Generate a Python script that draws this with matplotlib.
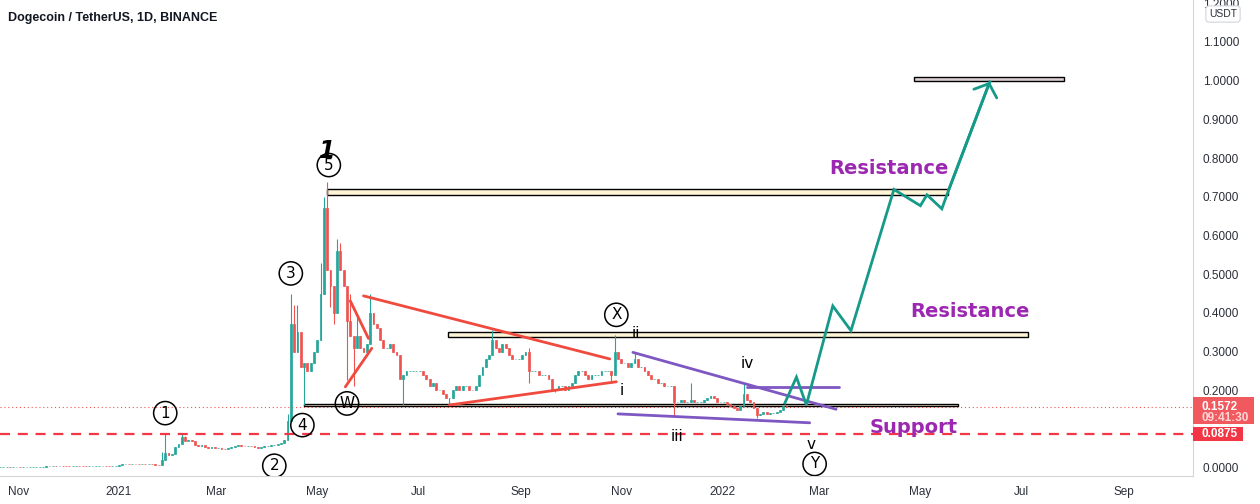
import pandas as pd
import matplotlib
matplotlib.use("Agg")
import matplotlib.pyplot as plt
import matplotlib.dates as mdates
from matplotlib.patches import Rectangle

plt.rcParams["font.family"] = ["DejaVu Sans"]

# 2-day candles starting 2020-10-21 (closes)
closes_oct20 = [0.0026, 0.0026, 0.0027, 0.0026, 0.0026, 0.0026]
closes_nov20 = [0.0025, 0.0026, 0.0026, 0.0027, 0.0027, 0.0028, 0.0029, 0.0030,
                0.0031, 0.0033, 0.0035, 0.0034, 0.0037, 0.0035, 0.0034]
closes_dec20 = [0.0033, 0.0034, 0.0034, 0.0033, 0.0032, 0.0031, 0.0032, 0.0034,
                0.0041, 0.0047, 0.0050, 0.0046, 0.0045, 0.0047, 0.0047]
closes_jan21 = [0.0058, 0.0098, 0.0100, 0.0095, 0.0100, 0.0098, 0.0090, 0.0092,
                0.0088, 0.0090, 0.0085, 0.0075, 0.0072, 0.0210, 0.0370, 0.0340]
closes_feb21 = [0.036, 0.053, 0.060, 0.078, 0.070, 0.072, 0.069, 0.058, 0.055,
                0.058, 0.053, 0.050, 0.054, 0.050]
closes_mar21 = [0.050, 0.049, 0.048, 0.052, 0.054, 0.056, 0.058, 0.057, 0.055,
                0.057, 0.056, 0.054, 0.052, 0.054, 0.057]
closes_apr21 = [0.057, 0.058, 0.059, 0.062, 0.064, 0.072, 0.120, 0.370, 0.300,
                0.350, 0.260, 0.270, 0.250, 0.270, 0.300]
closes_may21 = [0.330, 0.450, 0.670, 0.510, 0.470, 0.400, 0.560, 0.510, 0.470,
                0.380, 0.340, 0.310, 0.340, 0.310, 0.300, 0.320]
closes_jun21 = [0.400, 0.370, 0.360, 0.330, 0.310, 0.310, 0.320, 0.300, 0.290,
                0.230, 0.240, 0.250, 0.250, 0.250, 0.250]
closes_jul21 = [0.250, 0.240, 0.230, 0.210, 0.220, 0.200, 0.200, 0.190, 0.180,
                0.180, 0.200, 0.210, 0.200, 0.210, 0.210]
closes_aug21 = [0.200, 0.200, 0.210, 0.240, 0.260, 0.280, 0.290, 0.330, 0.310,
                0.300, 0.320, 0.310, 0.290, 0.280, 0.280, 0.280]
closes_sep21 = [0.290, 0.300, 0.250, 0.250, 0.250, 0.240, 0.240, 0.240, 0.230,
                0.200, 0.200, 0.210, 0.210, 0.200, 0.210]
closes_oct21 = [0.220, 0.240, 0.250, 0.250, 0.240, 0.230, 0.240, 0.240, 0.240,
                0.250, 0.250, 0.250, 0.240, 0.300, 0.280]
closes_nov21 = [0.270, 0.270, 0.260, 0.270, 0.280, 0.260, 0.260, 0.250, 0.240,
                0.230, 0.230, 0.220, 0.220, 0.210, 0.210]
closes_dec21 = [0.210, 0.170, 0.170, 0.175, 0.170, 0.170, 0.175, 0.170, 0.170,
                0.170, 0.175, 0.180, 0.185, 0.180, 0.170, 0.170]
closes_jan22 = [0.170, 0.165, 0.160, 0.155, 0.150, 0.160, 0.190, 0.175, 0.170,
                0.155, 0.135, 0.140, 0.145, 0.140, 0.142]
closes_feb22 = [0.142, 0.145, 0.150, 0.160, 0.1572]

closes = (closes_oct20 + closes_nov20 + closes_dec20 + closes_jan21 + closes_feb21
          + closes_mar21 + closes_apr21 + closes_may21 + closes_jun21 + closes_jul21
          + closes_aug21 + closes_sep21 + closes_oct21 + closes_nov21 + closes_dec21
          + closes_jan22 + closes_feb22)

wick_highs = {"2021-01-27": 0.040, "2021-01-29": 0.088, "2021-02-08": 0.087,
              "2021-02-10": 0.083, "2021-04-13": 0.140, "2021-04-15": 0.450,
              "2021-04-17": 0.420, "2021-04-19": 0.420, "2021-04-21": 0.340,
              "2021-05-03": 0.530, "2021-05-05": 0.700, "2021-05-07": 0.739,
              "2021-05-13": 0.590, "2021-05-15": 0.580, "2021-05-21": 0.450,
              "2021-05-25": 0.400, "2021-06-02": 0.450, "2021-08-15": 0.356,
              "2021-09-06": 0.310, "2021-10-28": 0.343, "2021-11-09": 0.300,
              "2021-12-13": 0.220, "2022-01-14": 0.218}
wick_lows = {"2021-04-23": 0.162, "2021-05-09": 0.416, "2021-05-11": 0.370,
             "2021-05-19": 0.227, "2021-05-23": 0.210, "2021-06-22": 0.162,
             "2021-07-20": 0.162, "2021-09-06": 0.219, "2021-09-22": 0.195,
             "2021-10-26": 0.220, "2021-12-03": 0.134, "2022-01-22": 0.129}

# drawings on the chart
zones = [  # start, end, low, high, fill
    ("2021-05-07", "2022-05-18", 0.704, 0.719, "#fff5d6"),
    ("2021-07-19", "2022-07-05", 0.337, 0.351, "#fff5d6"),
    ("2021-04-23", "2022-05-24", 0.160, 0.165, "#fff5d6"),
    ("2022-04-27", "2022-07-27", 0.998, 1.009, "#dccfd5"),
]
red_lines = [
    (("2021-05-29", 0.444), ("2021-10-25", 0.281)),
    (("2021-07-20", 0.162), ("2021-10-29", 0.222)),
    (("2021-05-21", 0.431), ("2021-06-01", 0.334)),
    (("2021-05-18", 0.209), ("2021-06-03", 0.3085)),
]
purple_lines = [
    (("2021-11-08", 0.298), ("2022-03-11", 0.151)),
    (("2021-10-30", 0.139), ("2022-02-23", 0.116)),
    (("2022-01-16", 0.208), ("2022-03-13", 0.208)),
]
path_dates = ["2022-02-08", "2022-02-15", "2022-02-21", "2022-03-09", "2022-03-20",
              "2022-04-15", "2022-05-01", "2022-05-05", "2022-05-14", "2022-05-18",
              "2022-06-12"]
path_prices = [0.167, 0.234, 0.162, 0.418, 0.354, 0.719, 0.677, 0.705, 0.669, 0.716, 0.997]

circle_labels = [("1", "2021-01-29", 0.141), ("2", "2021-04-05", 0.005),
                 ("3", "2021-04-15", 0.502), ("4", "2021-04-22", 0.110),
                 ("5", "2021-05-08", 0.782), ("W", "2021-05-19", 0.166),
                 ("X", "2021-10-29", 0.395), ("Y", "2022-02-26", 0.0096)]
roman_labels = [("i", "2021-11-01", 0.199), ("ii", "2021-11-10", 0.347),
                ("iii", "2021-12-05", 0.080), ("iv", "2022-01-16", 0.270),
                ("v", "2022-02-24", 0.061)]
big_labels = [("Resistance", "2022-04-12", 0.772), ("Resistance", "2022-05-31", 0.404),
              ("Support", "2022-04-27", 0.1026)]

support_price = 0.0875
last_price = 0.1572

x_ticks = ["2020-11-01", "2021-01-01", "2021-03-01", "2021-05-01", "2021-07-01",
           "2021-09-01", "2021-11-01", "2022-01-01", "2022-03-01", "2022-05-01",
           "2022-07-01", "2022-09-01"]
x_labels = ["Nov", "2021", "Mar", "May", "Jul", "Sep", "Nov", "2022", "Mar", "May",
            "Jul", "Sep"]
# 0.1000 is hidden behind the price tags on the original scale
y_ticks = [0.0, 0.2, 0.3, 0.4, 0.5, 0.6, 0.7, 0.8, 0.9, 1.0, 1.1, 1.2]

UP, DOWN = "#26a69a", "#ef5350"
RED, PURPLE, TEAL, MAGENTA = "#f04a3e", "#7e57c2", "#159a8a", "#9c27b0"
W, H = 1260, 504


def dn(s):
    return mdates.date2num(pd.Timestamp(s))


fig = plt.figure(figsize=(W / 100, H / 100), dpi=100)
ax = fig.add_axes([0, 28 / H, 1193 / W, 476 / H])

# candles
dates = pd.date_range("2020-10-21", periods=len(closes), freq="2D")
c = pd.Series(closes, index=dates)
o = c.shift(1).fillna(c.iloc[0])
body_lo = pd.concat([o, c], axis=1).min(axis=1)
body_hi = pd.concat([o, c], axis=1).max(axis=1)
hi = body_hi.copy()
lo = body_lo.copy()
for d, v in wick_highs.items():
    hi[pd.Timestamp(d)] = v
for d, v in wick_lows.items():
    lo[pd.Timestamp(d)] = v
x = mdates.date2num(dates)
cols = [UP if cc >= oo else DOWN for cc, oo in zip(c, o)]
ax.vlines(x, lo, hi, colors=cols, lw=0.8, zorder=2)
ax.bar(x, body_hi - body_lo, bottom=body_lo, width=1.1, color=cols,
       edgecolor=cols, linewidth=0.5, zorder=2)

# zones
for s, e, y0, y1, fc in zones:
    ax.add_patch(Rectangle((dn(s), y0), dn(e) - dn(s), y1 - y0, fc=fc, ec="black",
                           lw=1, zorder=1.5))

ax.axhline(last_price, color=DOWN, lw=0.8, ls=(0, (1, 2.5)), zorder=1)
ax.axhline(support_price, color="#f23645", lw=1.6, ls=(0, (4.5, 3.5)), zorder=3)

for (d0, p0), (d1, p1) in red_lines:
    ax.plot([dn(d0), dn(d1)], [p0, p1], color=RED, lw=2, zorder=3, solid_capstyle="round")
for (d0, p0), (d1, p1) in purple_lines:
    ax.plot([dn(d0), dn(d1)], [p0, p1], color=PURPLE, lw=2, zorder=3, solid_capstyle="round")

px = [dn(d) for d in path_dates]
ax.plot(px, path_prices, color=TEAL, lw=2, zorder=4, solid_joinstyle="miter")
ax.annotate("", xy=(px[-1], path_prices[-1]), xytext=(px[-2], path_prices[-2]),
            arrowprops=dict(arrowstyle="->,head_length=0.35,head_width=0.4", color=TEAL,
                            lw=2, mutation_scale=22, shrinkA=0, shrinkB=0), zorder=4)

for t, d, p in circle_labels:
    ax.text(dn(d), p, t, ha="center", va="center", fontsize=11, zorder=5,
            bbox=dict(boxstyle="circle,pad=0.27", fc="none", ec="black", lw=1.1),
            clip_on=True)
ax.text(dn("2021-05-07"), 0.818, "1", ha="center", va="center", fontsize=17,
        weight="bold", style="italic", zorder=6)
for t, d, p in roman_labels:
    ax.text(dn(d), p, t, ha="center", va="center", fontsize=11, zorder=5)
for t, d, p in big_labels:
    ax.text(dn(d), p, t, ha="center", va="center", fontsize=14, weight="bold",
            color=MAGENTA, zorder=5)

# axes
ax.set_xlim(dn("2020-10-21"), dn("2022-10-13"))
ax.set_ylim(-0.0215, 1.2085)
ax.set_xticks([dn(d) for d in x_ticks])
ax.set_xticklabels(x_labels)
ax.set_yticks(y_ticks)
ax.set_yticklabels(["{:.4f}".format(v) for v in y_ticks])
ax.yaxis.tick_right()
ax.tick_params(length=0, labelsize=8.5, labelcolor="#2a2e39")
ax.tick_params(axis="x", pad=7)
ax.tick_params(axis="y", pad=7)
for lab in ax.get_xticklabels() + ax.get_yticklabels():
    lab.set_family("Liberation Sans")
for sp in ["top", "left"]:
    ax.spines[sp].set_visible(False)
for sp in ["right", "bottom"]:
    ax.spines[sp].set_color("#d6d6d6")

fig.text(8 / W, 1 - 18 / H, "Dogecoin / TetherUS, 1D, BINANCE", fontsize=9,
         weight="bold", family="Liberation Sans", color="#131722", va="center")
fig.text(1223 / W, 1 - 14 / H, "USDT", fontsize=7.5, ha="center", va="center",
         color="#2a2e39", family="Liberation Sans", zorder=6,
         bbox=dict(boxstyle="round,pad=0.3", fc="white", ec="#d1d4dc", lw=0.8))


# price tags on the scale
def price_tag(price, lines, width, above, below, color):
    y = ax.transData.transform((ax.get_xlim()[0], price))[1]
    x0 = 1193
    fig.add_artist(Rectangle((x0 / W, (y - below) / H), width / W, (above + below) / H,
                             transform=fig.transFigure, fc=color, ec="none", zorder=5))
    for k, (txt, col) in enumerate(lines):
        fig.text((x0 + 9) / W, (y - 11 * k) / H, txt, fontsize=8.5, weight="bold",
                 color=col, family="Liberation Sans", va="center", zorder=6)


price_tag(last_price, [("{:.4f}".format(last_price), "white"), ("09:41:30", "#ffd6d6")],
          61, 10, 17, "#f05a5f")
price_tag(support_price, [("{:.4f}".format(support_price), "white")], 50, 7, 7, "#f23645")

fig.savefig("out.png", dpi=100)
